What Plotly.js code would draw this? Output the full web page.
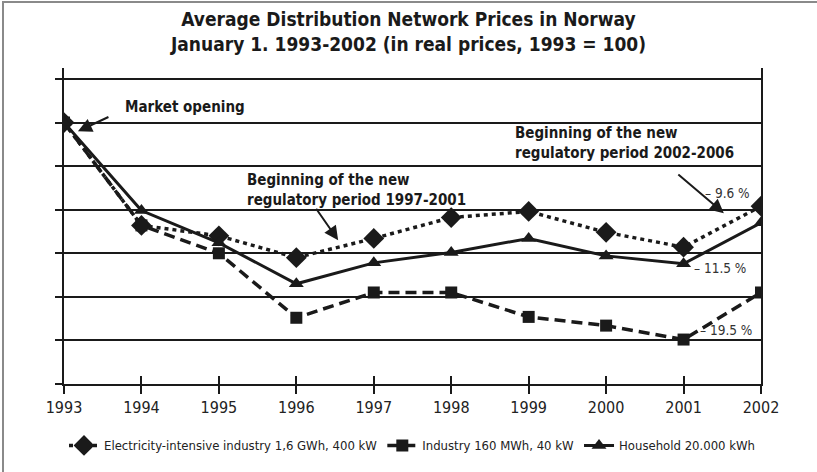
<!DOCTYPE html>
<html>
<head>
<meta charset="utf-8">
<script src="https://cdn.plot.ly/plotly-3.0.1.min.js"></script>
<style>
  body { margin: 0; background: #fff; }
  #chart { width: 817px; height: 472px; position: absolute; left: 0; top: 0; }
  #frame { position: absolute; left: 2px; top: 1px; width: 830px; height: 480px;
           border-left: 2px solid #8a8a8a; border-top: 2px solid #8a8a8a; pointer-events: none; }
</style>
</head>
<body>
<div id="chart"></div>
<div id="frame"></div>
<script>
// years and index values (1993 = 100)
const years = [1993, 1994, 1995, 1996, 1997, 1998, 1999, 2000, 2001, 2002];
const elIntensive = [100, 88.2, 87.0, 84.5, 86.7, 89.1, 89.8, 87.4, 85.7, 90.4];
const industry = [100, 88.2, 85.0, 77.6, 80.5, 80.5, 77.7, 76.7, 75.1, 80.5];
const household = [100, 89.9, 86.2, 81.5, 83.9, 85.1, 86.7, 84.7, 83.8, 88.5];

const seriesNames = [
  'Electricity-intensive industry 1,6 GWh, 400 kW',
  'Industry 160 MWh, 40 kW',
  'Household 20.000 kWh'
];

const ink = '#1a1a1a';
const fam = 'DejaVu Sans Condensed, Open Sans, sans-serif';
const boldFont = { family: fam, size: 15, color: ink, weight: 'bold' };
const pctFont = { family: fam, size: 13.5, color: '#333' };

const traces = [
  {
    x: years, y: elIntensive, name: seriesNames[0], type: 'scatter', mode: 'lines+markers',
    line: { color: ink, width: 3.5, dash: '4px,4px' },
    marker: { symbol: 'diamond', size: 16, color: ink }
  },
  {
    x: years, y: industry, name: seriesNames[1], type: 'scatter', mode: 'lines+markers',
    line: { color: ink, width: 3.5, dash: '11px,6px' },
    marker: { symbol: 'square', size: 12, color: ink }
  },
  {
    x: years, y: household, name: seriesNames[2], type: 'scatter', mode: 'lines+markers',
    line: { color: ink, width: 3 },
    marker: { symbol: 'triangle-up', size: 13, color: ink }
  },
  // invisible copy so the overlay axis (inside half of the crossing ticks) gets drawn
  {
    x: years, y: household, xaxis: 'x2', type: 'scatter', mode: 'lines',
    line: { width: 0 }, showlegend: false, hoverinfo: 'skip', opacity: 0
  }
];

function arrow(x, y, ax, ay) {
  return { x: x, y: y, ax: ax, ay: ay, text: '', showarrow: true,
           arrowhead: 2, arrowsize: 1.4, arrowwidth: 2, arrowcolor: ink };
}

const annotations = [
  { x: 1993.76, y: 101.8, xanchor: 'left', yanchor: 'middle', showarrow: false,
    text: 'Market opening', font: boldFont },
  arrow(1993.18, 99.0, 32, -15),
  { x: 1995.34, y: 92.27, xanchor: 'left', yanchor: 'middle', align: 'left', showarrow: false,
    text: 'Beginning of the new<br>regulatory period 1997-2001', font: boldFont },
  arrow(1996.54, 86.5, -23, -33),
  { x: 1998.8, y: 97.66, xanchor: 'left', yanchor: 'middle', align: 'left', showarrow: false,
    text: 'Beginning of the new<br>regulatory period 2002-2006', font: boldFont },
  arrow(2001.52, 89.6, -47, -40),
  { x: 2001.88, y: 91.92, xanchor: 'right', yanchor: 'middle', showarrow: false,
    text: '– 9.6 %', font: pctFont },
  { x: 2001.83, y: 83.31, xanchor: 'right', yanchor: 'middle', showarrow: false,
    text: '– 11.5 %', font: pctFont },
  { x: 2001.91, y: 76.2, xanchor: 'right', yanchor: 'middle', showarrow: false,
    text: '– 19.5 %', font: pctFont }
];

const layout = {
  width: 817, height: 472,
  margin: { l: 64, r: 56, t: 68, b: 88, autoexpand: false },
  paper_bgcolor: '#fff', plot_bgcolor: '#fff',
  font: { family: fam, color: ink },
  title: {
    text: 'Average Distribution Network Prices in Norway<br>January 1. 1993-2002 (in real prices, 1993 = 100)',
    font: { family: fam, size: 19, color: ink, weight: 'bold' },
    x: 0.5, xanchor: 'center', y: 0.944, yanchor: 'top'
  },
  xaxis: {
    range: [1993, 2002], tickmode: 'array', tickvals: years, ticktext: years.map(String),
    showgrid: false, zeroline: false, showline: true, linecolor: ink, linewidth: 2,
    ticks: 'outside', ticklen: 8, tickwidth: 2, tickcolor: ink,
    tickfont: { family: fam, size: 16, color: '#222' }
  },
  xaxis2: {
    overlaying: 'x', matches: 'x', anchor: 'y', side: 'bottom',
    tickmode: 'array', tickvals: years, showticklabels: false,
    showgrid: false, zeroline: false, showline: false,
    ticks: 'inside', ticklen: 8, tickwidth: 2, tickcolor: ink
  },
  yaxis: {
    range: [70, 106.26], tickmode: 'linear', tick0: 70, dtick: 5,
    showticklabels: false, showgrid: true, gridcolor: ink, gridwidth: 2,
    zeroline: false, showline: true, linecolor: ink, linewidth: 2, mirror: true,
    ticks: 'outside', ticklen: 7, tickwidth: 2, tickcolor: ink
  },
  legend: {
    orientation: 'h', x: 0.5, xanchor: 'center', y: -0.147, yanchor: 'top',
    font: { family: fam, size: 13, color: '#222' },
    itemwidth: 30, tracegroupgap: 0
  },
  annotations: annotations,
  showlegend: true
};

Plotly.newPlot('chart', traces, layout, { displayModeBar: false, staticPlot: true });
</script>
</body>
</html>
